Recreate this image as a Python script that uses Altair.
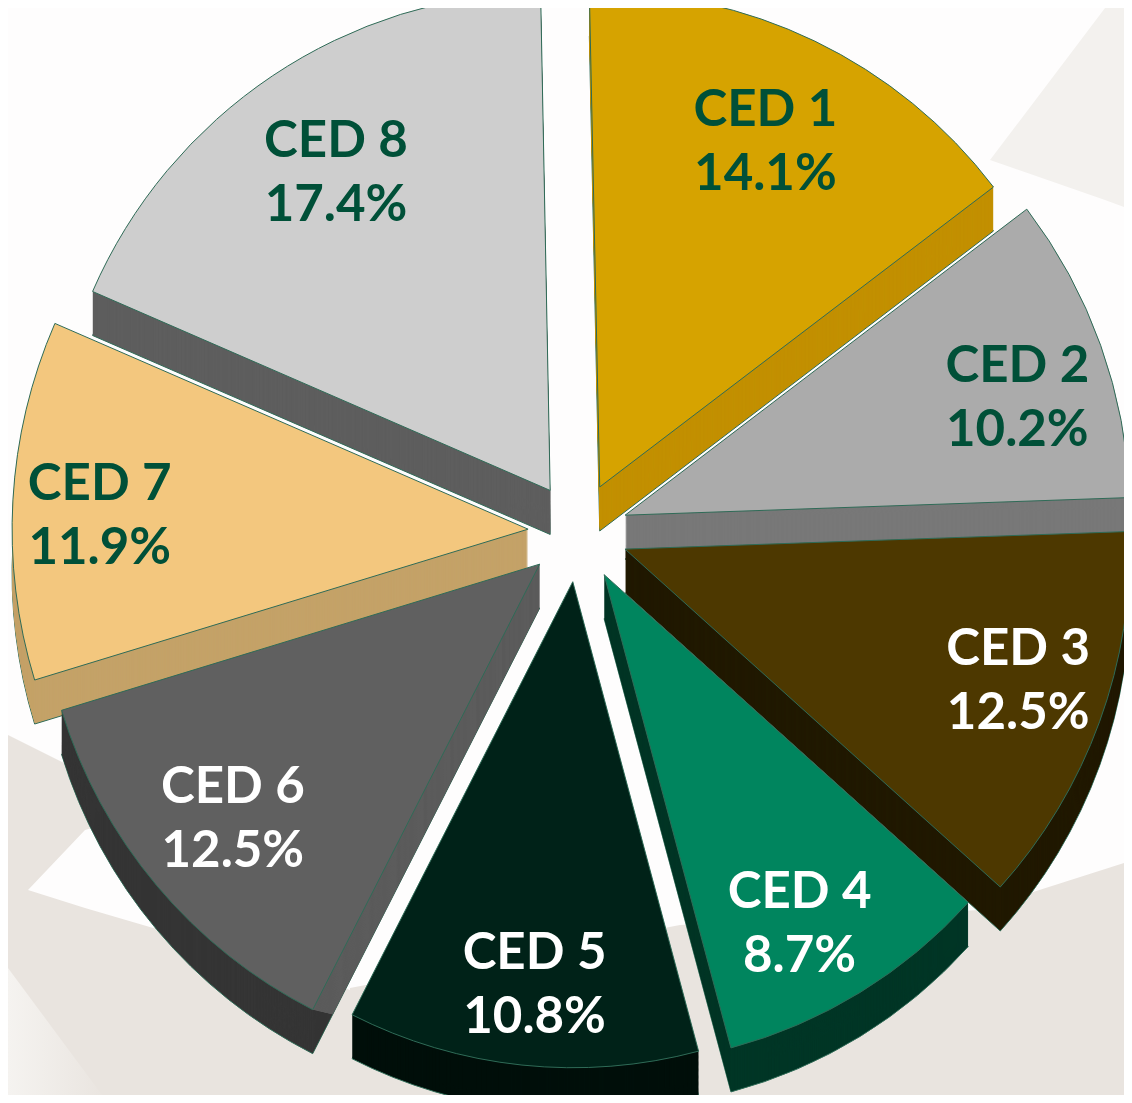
import math
import altair as alt
import pandas as pd

# ---- values ----
names = ["CED 1", "CED 2", "CED 3", "CED 4", "CED 5", "CED 6", "CED 7", "CED 8"]
shares = [14.1, 10.2, 12.5, 8.7, 10.8, 12.5, 11.9, 17.4]
top_colors = ["#D6A300", "#ABABAB", "#4D3800", "#00855E", "#002218", "#606060", "#F3C77E", "#CECECE"]
wall_colors = ["#C29000", "#787878", "#211900", "#003626", "#000F0A", "#353535", "#C4A268", "#5E5E5E"]
edge_colors = ["#C29000", "#787878", "#211900", "#003626", "#000F0A", "#5C5C5C", "#C4A268", "#5E5E5E"]
text_colors = ["#005038", "#005038", "#FFFFFF", "#FFFFFF", "#FFFFFF", "#FFFFFF", "#005038", "#005038"]

# ---- layout of the tilted, exploded pie (pixels, degrees) ----
W, H = 1116, 1087
CX, CY = 570, 524
EXPLODE = 50
DEPTH = 44
# boundary angles as drawn: the perspective squeezes some slices
edge_angles = [-1.2, 52.7, 88, 132, 165, 207, 253, 293.5, 358.9]
radii = [495, 505, 505, 490, 486, 500, 516, 499]
label_radii = [386, 408, 411, 397, 404, 398, 427, 385]
label_dx = [-2, 8, 7, -12, 4, -2, -2, 0]
label_dy = [4, 21, -8, 12, 2, 0, 12, 3]
draw_order = [7, 0, 1, 6, 5, 2, 3, 4]

cum = [0.0]
for s in shares:
    cum.append(round(cum[-1] + s, 1))

theta_scale = alt.Scale(domain=cum, range=[math.radians(a) for a in edge_angles])
pix_x = alt.X("cx:Q", scale=None, axis=None)
pix_y = alt.Y("cy:Q", scale=None, axis=None)


def slice_row(i, drop=0, shrink=0):
    mid = math.radians((edge_angles[i] + edge_angles[i + 1]) / 2)
    return {
        "name": names[i],
        "start": cum[i],
        "end": cum[i + 1],
        "mid": (cum[i] + cum[i + 1]) / 2,
        "cx": CX + EXPLODE * math.sin(mid),
        "cy": CY - EXPLODE * math.cos(mid) + drop,
        "r": radii[i] - shrink,
        "lr": label_radii[i],
        "label": f"{names[i]}\n{shares[i]}%",
        "tc": text_colors[i],
    }


def label_row(i):
    row = slice_row(i)
    row["cx"] += label_dx[i]
    row["cy"] += label_dy[i]
    return row


def arc_layer(rows, fill, stroke=None):
    kw = {"fill": fill}
    if stroke:
        kw.update(stroke=stroke, strokeWidth=1)
    return alt.Chart(pd.DataFrame(rows)).mark_arc(**kw).encode(
        x=pix_x,
        y=pix_y,
        theta=alt.Theta("start:Q", scale=theta_scale),
        theta2=alt.Theta2("end:Q"),
        radius=alt.Radius("r:Q", scale=None),
    )


# ---- faint backdrop shapes ----
bg_x = [0, 60, 342, 672, 972, 1022, 1116]
bg_top = [727, 757, 980, 917, 902, 885, 855]
bg_bottom = [1095] * len(bg_x)
wedge_x = [20, 77, 152, 342]
wedge_top = [882, 822, 800, 790]
wedge_bottom = [882, 900, 922, 982]
shade_x = [982, 1097, 1116]
shade_top = [152, 0, 0]
shade_bottom = [152, 192, 199]
fade_x = [0, 100]
fade_top = [960, 1095]
fade_bottom = [1095, 1095]


def bg_area(xs, top, bottom, color):
    df = pd.DataFrame({"cx": xs, "cy": top, "cy2": bottom})
    return alt.Chart(df).mark_area(color=color).encode(
        x=pix_x, y=pix_y, y2=alt.Y2("cy2:Q")
    )


fade = alt.Gradient(
    gradient="linear", x1=0, x2=1, y1=0, y2=0,
    stops=[
        alt.GradientStop(color="#F5F3F0", offset=0),
        alt.GradientStop(color="#E9E4DF", offset=1),
    ],
)

layers = [
    bg_area(shade_x, shade_top, shade_bottom, "#F3F1EE"),
    bg_area(bg_x, bg_top, bg_bottom, "#E9E4DF"),
    bg_area(wedge_x, wedge_top, wedge_bottom, "#FEFDFD"),
    bg_area(fade_x, fade_top, fade_bottom, fade),
]

for i in draw_order:
    layers.append(arc_layer([slice_row(i, DEPTH)], wall_colors[i], "#2F6B57"))
    layers.append(arc_layer([slice_row(i, d) for d in range(DEPTH - 1, 0, -1)], wall_colors[i]))
    if edge_colors[i] != wall_colors[i]:
        layers.append(arc_layer([slice_row(i, d, d) for d in range(DEPTH, 0, -1)], edge_colors[i]))
    layers.append(arc_layer([slice_row(i)], top_colors[i], "#2F6B57"))

labels = alt.Chart(pd.DataFrame([label_row(i) for i in range(len(names))])).mark_text(
    font="Lato", fontWeight="bold", fontSize=51, lineBreak="\n", lineHeight=64,
    align="center", baseline="middle", dy=-32,
).encode(
    x=pix_x,
    y=pix_y,
    theta=alt.Theta("mid:Q", scale=theta_scale),
    radius=alt.Radius("lr:Q", scale=None),
    text="label:N",
    color=alt.Color("tc:N", scale=None, legend=None),
)
layers.append(labels)

chart = alt.layer(*layers).properties(
    width=W, height=H, padding=0, background="#FEFDFD",
    autosize=alt.AutoSizeParams(type="none"),
).configure_view(stroke=None, fill="#FEFDFD")

chart.save("out.html", embed_options={"renderer": "svg", "actions": False})
